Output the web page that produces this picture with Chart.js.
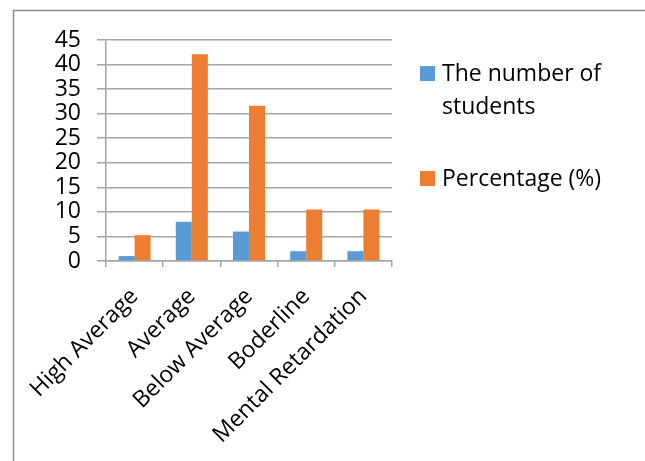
<!DOCTYPE html>
<html>
<head>
<meta charset="utf-8">
<script src="https://cdn.jsdelivr.net/npm/chart.js@4"></script>
<style>
html,body{margin:0;padding:0;background:#fff;}
#wrap{position:relative;width:645px;height:461px;}
</style>
</head>
<body>
<div id="wrap"><canvas id="c" width="645" height="461"></canvas></div>
<script>
const categories = ["High Average", "Average", "Below Average", "Boderline", "Mental Retardation"];
const students = [1, 8, 6, 2, 2];
const percentage = [5.26, 42.1, 31.6, 10.5, 10.5];
const seriesLabels = [["The number of", "students"], ["Percentage (%)"]];
const yMin = 0, yMax = 45, yStep = 5;

const FONT = "'Open Sans', 'Liberation Sans', sans-serif";
const BLUE = "#5b9bd5";
const ORANGE = "#ed7d31";
const GRID = "#a6a6a6";

const framePlugin = {
  id: "frame",
  beforeDraw(chart) {
    const ctx = chart.ctx;
    ctx.save();
    ctx.strokeStyle = "#8c8c8c";
    ctx.lineWidth = 1.5;
    ctx.beginPath();
    ctx.moveTo(13.5, 461);
    ctx.lineTo(13.5, 10.5);
    ctx.lineTo(645, 10.5);
    ctx.stroke();
    ctx.restore();
  }
};

const legendPlugin = {
  id: "customLegend",
  afterDraw(chart) {
    const ctx = chart.ctx;
    const colors = [BLUE, ORANGE];
    const tops = [66, 171];
    ctx.save();
    ctx.font = "23px " + FONT;
    ctx.textBaseline = "alphabetic";
    chart.data.datasets.forEach((ds, i) => {
      ctx.fillStyle = colors[i];
      ctx.fillRect(420, tops[i], 15, 15);
      ctx.fillStyle = "#000";
      seriesLabels[i].forEach((t, j) => {
        ctx.fillText(t, 442, tops[i] + 15 + j * 33);
      });
    });
    ctx.restore();
  }
};

new Chart(document.getElementById("c"), {
  type: "bar",
  data: {
    labels: categories,
    datasets: [
      { label: seriesLabels[0].join(" "), data: students, backgroundColor: BLUE, borderWidth: 0 },
      { label: seriesLabels[1].join(" "), data: percentage, backgroundColor: ORANGE, borderWidth: 0 }
    ]
  },
  options: {
    responsive: false,
    animation: false,
    layout: { padding: { left: 0, right: 253, top: 40, bottom: 0 } },
    datasets: { bar: { barPercentage: 1, categoryPercentage: 0.56 } },
    plugins: {
      legend: { display: false },
      tooltip: { enabled: false }
    },
    scales: {
      x: {
        offset: true,
        grid: { display: true, drawOnChartArea: false, offset: true, color: GRID, lineWidth: 1.5, tickLength: 6 },
        border: { color: GRID, width: 1.5 },
        ticks: {
          color: "#000",
          font: { family: FONT, size: 23 },
          minRotation: 45,
          maxRotation: 45,
          padding: 16,
          autoSkip: false
        },
        afterFit(scale) { scale.height = 200; }
      },
      y: {
        min: yMin,
        max: yMax,
        grid: { color: GRID, lineWidth: 1.5, tickLength: 9 },
        border: { color: GRID, width: 1.5 },
        ticks: {
          color: "#000",
          font: { family: FONT, size: 23 },
          padding: 16,
          stepSize: yStep,
          autoSkip: false
        },
        afterFit(scale) { scale.width = 106; }
      }
    }
  },
  plugins: [framePlugin, legendPlugin]
});
</script>
</body>
</html>
